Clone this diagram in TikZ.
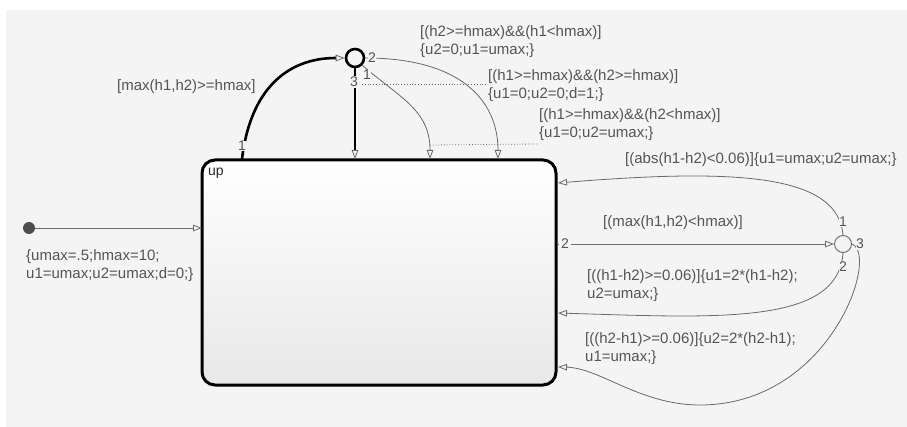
\documentclass[tikz,border=0pt]{standalone}
\usepackage{fontspec}
\setmainfont{Liberation Sans}
\usetikzlibrary{arrows.meta}
\definecolor{bg}{HTML}{F4F4F4}
\definecolor{txt}{HTML}{545454}
\definecolor{ln}{HTML}{6A6A6A}
\tikzset{
  lbl/.style={text=txt, font=\fontsize{15}{18}\selectfont, inner sep=0pt, align=left, anchor=west},
  num/.style={text=txt, font=\fontsize{14}{16}\selectfont, inner sep=0.6pt, fill=bg},
  tr/.style={draw=ln, line width=0.8pt, -{Triangle[open,length=9pt,width=6.5pt]}},
  trk/.style={draw=black, line width=2.6pt, -{Triangle[open,length=9pt,width=6.5pt,line width=0.8pt,color=ln]}},
  dots/.style={draw=ln, line width=0.8pt, dotted},
  junc/.style={circle, draw=black, inner sep=0pt, fill=bg},
}
\begin{document}
\begin{tikzpicture}[x=1pt,y=-1pt]
\useasboundingbox (0,0) rectangle (907,427);
\fill[white] (0,0) rectangle (907,427);
\fill[bg] (6,10) rectangle (907,427);

% state box
\node[draw=black, line width=3pt, rounded corners=13pt, minimum width=354pt, minimum height=225pt,
      inner sep=0pt, top color=white, bottom color=black!9] (up) at (379,272.5) {};
\node[anchor=west, inner sep=0pt, font=\fontsize{14}{16}\selectfont, text=black!85] (upname) at (208,173) {up};

% junctions and default transition
\node[junc, line width=2.6pt, minimum size=18pt] (jt) at (355,58) {};
\node[junc, draw=ln, line width=0.9pt, minimum size=17pt] (jr) at (843,244) {};
\node[circle, fill=black!70, minimum size=12pt, inner sep=0pt] (init) at (29,228) {};

% box edge points
\coordinate (t1) at (242,159);
\coordinate (t3) at (355,159);
\coordinate (t4) at (430,159);
\coordinate (t5) at (498,159);
\coordinate (rA) at (558,183);
\coordinate (r2) at (558,244);
\coordinate (rB) at (558,313);
\coordinate (rC) at (558,367);
\coordinate (d1) at (362,84);
\coordinate (d2) at (430,145);
\coordinate (l0) at (202,228);

% default transition
\draw[tr] (init) -- (l0);

% top transitions
\draw[trk] (t1) .. controls (250,92) and (285,58) .. (jt.west);
\draw[trk] (jt.south) -- (t3);
\draw[tr] (jt.south east) .. controls (400,98) and (430,110) .. (t4);
\draw[tr] (jt.east) .. controls (460,58) and (498,100) .. (t5);

% right transitions
\draw[tr] (r2) -- (jr.west);
\draw[tr] (jr.north) .. controls (838,175) and (740,168) .. (rA);
\draw[tr] (jr.south) .. controls (838,325) and (720,318) .. (rB);
\draw[tr] (jr.east) .. controls (880,255) and (830,405) .. (700,405) .. controls (640,405) and (600,368) .. (rC);

% labels
\node[lbl] (Linit) at (26,266) {\{umax=.5;hmax=10;\\u1=umax;u2=umax;d=0;\}};
\node[lbl] (Lmax) at (117,87) {[max(h1,h2)>=hmax]};
\node[lbl] (L2) at (420,42) {[(h2>=hmax)\&\&(h1<hmax)]\\\{u2=0;u1=umax;\}};
\node[lbl] (L1) at (488,86) {[(h1>=hmax)\&\&(h2>=hmax)]\\\{u1=0;u2=0;d=1;\}};
\node[lbl] (L1b) at (539,125) {[(h1>=hmax)\&\&(h2<hmax)]\\\{u1=0;u2=umax;\}};
\node[lbl] (LA) at (625,160) {[(abs(h1-h2)<0.06)]\{u1=umax;u2=umax;\}};
\node[lbl] (Lmx) at (603,223) {[(max(h1,h2)<hmax)]};
\node[lbl] (LB) at (587,286) {[((h1-h2)>=0.06)]\{u1=2*(h1-h2);\\u2=umax;\}};
\node[lbl] (LC) at (585,349) {[((h2-h1)>=0.06)]\{u2=2*(h2-h1);\\u1=umax;\}};

% dotted label leaders
\draw[dots] (d1) -- (L1.west |- d1);
\draw[dots] (d2) -- (537,144);

% transition order numbers
\node[num] (n1a) at (242,146) {1};
\node[num] (n3t) at (354,82) {3};
\node[num] (n1t) at (367,75) {1};
\node[num] (n2t) at (372,58) {2};
\node[num, inner xsep=2.5pt] (n2r) at (565,244) {2};
\node[num] (n1r) at (843,222) {1};
\node[num] (n2b) at (843,267) {2};
\node[num] (n3r) at (860,244) {3};
\end{tikzpicture}
\end{document}
